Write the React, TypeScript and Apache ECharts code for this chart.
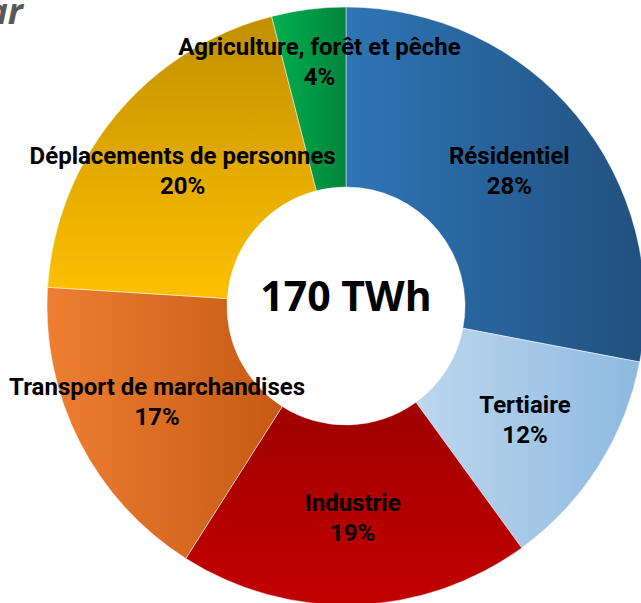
import React, { useEffect, useRef } from "react";
import * as echarts from "echarts";

const categories = [
  "Résidentiel",
  "Tertiaire",
  "Industrie",
  "Transport de marchandises",
  "Déplacements de personnes",
  "Agriculture, forêt et pêche",
];
const shares = [28, 12, 19, 17, 20, 4];
const totalLabel = "170 TWh";
const titleFragment = "ar";

// gradient: [colorStart, colorEnd, direction] ; "h" = left->right, "v" = top->bottom
const gradients: [string, string, string][] = [
  ["#2E75B6", "#21507E", "h"],
  ["#BDD7EE", "#8DB9E0", "h"],
  ["#A00000", "#C20000", "v"],
  ["#EE7E32", "#C65A14", "h"],
  ["#C29000", "#FFC000", "v"],
  ["#00B050", "#00843C", "h"],
];

export default function App() {
  const ref = useRef<HTMLDivElement>(null);
  useEffect(() => {
    if (!ref.current) return;
    const chart = echarts.init(ref.current, null, { renderer: "svg" });
    const data = categories.map((name, i) => {
      const [c1, c2, dir] = gradients[i];
      return {
        name,
        value: shares[i],
        itemStyle: {
          color: new echarts.graphic.LinearGradient(
            0,
            0,
            dir === "h" ? 1 : 0,
            dir === "v" ? 1 : 0,
            [
              { offset: 0, color: c1 },
              { offset: 1, color: c2 },
            ]
          ),
        },
      };
    });
    chart.setOption({
      animation: false,
      backgroundColor: "#ffffff",
      graphic: [
        {
          type: "text",
          x: 23,
          y: 28,
          style: {
            text: titleFragment,
            align: "right",
            verticalAlign: "bottom",
            fill: "#595959",
            font: "italic bold 36px 'Open Sans', Lato, sans-serif",
          },
        },
        {
          type: "text",
          x: 346,
          y: 295,
          z: 10,
          style: {
            text: totalLabel,
            align: "center",
            verticalAlign: "middle",
            fill: "#000000",
            font: "bold 41px 'Open Sans', 'Noto Sans', sans-serif",
          },
        },
      ],
      series: [
        {
          type: "pie",
          center: [346, 306],
          radius: [119, 299],
          startAngle: 90,
          clockwise: true,
          avoidLabelOverlap: false,
          itemStyle: { borderColor: "rgba(255,255,255,0.8)", borderWidth: 0.6 },
          label: {
            show: true,
            position: "inside",
            formatter: "{b}\n{c}%",
            color: "#000000",
            fontFamily: "Roboto, 'Liberation Sans', sans-serif",
            fontWeight: "bold",
            fontSize: 24,
            lineHeight: 30,
            align: "center",
          },
          labelLine: { show: false },
          labelLayout: (params: any) =>
            params.dataIndex === 5 ? { dy: -34 } : {},
          emphasis: { disabled: true },
          data,
        },
      ],
    });
    return () => chart.dispose();
  }, []);
  return (
    <div
      ref={ref}
      style={{ position: "fixed", left: 0, top: 0, width: 641, height: 603 }}
    />
  );
}
